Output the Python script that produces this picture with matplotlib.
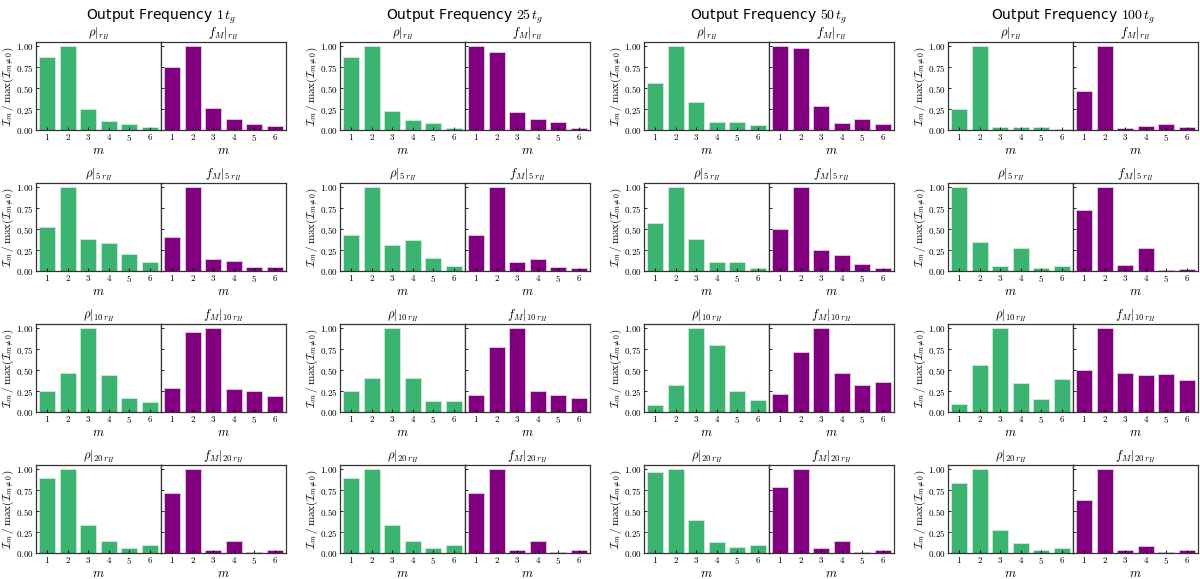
import numpy as np
import matplotlib
matplotlib.use('Agg')
import matplotlib.pyplot as plt
from matplotlib.ticker import FormatStrFormatter

plt.rcParams['mathtext.fontset'] = 'cm'
plt.rcParams['font.family'] = 'DejaVu Sans'

m = [1, 2, 3, 4, 5, 6]
freq_labels = [r'Output Frequency $1\,t_g$', r'Output Frequency $25\,t_g$',
               r'Output Frequency $50\,t_g$', r'Output Frequency $100\,t_g$']
radius_labels = [r'r_H', r'5\,r_H', r'10\,r_H', r'20\,r_H']

# rows: r_H, 5 r_H, 10 r_H, 20 r_H
rho_1tg = [[0.87, 1.00, 0.25, 0.11, 0.07, 0.04],
           [0.52, 1.00, 0.38, 0.33, 0.20, 0.11],
           [0.25, 0.47, 1.00, 0.44, 0.17, 0.12],
           [0.90, 1.00, 0.33, 0.14, 0.06, 0.10]]
fm_1tg = [[0.75, 1.00, 0.26, 0.13, 0.07, 0.05],
          [0.41, 1.00, 0.14, 0.12, 0.05, 0.05],
          [0.29, 0.95, 1.00, 0.28, 0.25, 0.19],
          [0.72, 1.00, 0.04, 0.14, 0.01, 0.03]]

rho_25tg = [[0.87, 1.00, 0.23, 0.12, 0.08, 0.02],
            [0.43, 1.00, 0.31, 0.37, 0.15, 0.06],
            [0.25, 0.41, 1.00, 0.40, 0.13, 0.13],
            [0.90, 1.00, 0.33, 0.14, 0.06, 0.10]]
fm_25tg = [[1.00, 0.93, 0.22, 0.13, 0.10, 0.02],
           [0.43, 1.00, 0.11, 0.14, 0.05, 0.03],
           [0.20, 0.78, 1.00, 0.25, 0.20, 0.17],
           [0.72, 1.00, 0.04, 0.14, 0.01, 0.03]]

rho_50tg = [[0.56, 1.00, 0.33, 0.10, 0.09, 0.06],
            [0.57, 1.00, 0.38, 0.11, 0.11, 0.03],
            [0.08, 0.32, 1.00, 0.80, 0.25, 0.14],
            [0.97, 1.00, 0.39, 0.13, 0.07, 0.10]]
fm_50tg = [[1.00, 0.98, 0.29, 0.08, 0.13, 0.07],
           [0.50, 1.00, 0.25, 0.19, 0.08, 0.04],
           [0.22, 0.72, 1.00, 0.46, 0.32, 0.36],
           [0.79, 1.00, 0.06, 0.14, 0.01, 0.03]]

rho_100tg = [[0.25, 1.00, 0.03, 0.03, 0.03, 0.01],
             [1.00, 0.35, 0.06, 0.27, 0.03, 0.06],
             [0.09, 0.56, 1.00, 0.35, 0.15, 0.39],
             [0.83, 1.00, 0.28, 0.12, 0.04, 0.06]]
fm_100tg = [[0.46, 1.00, 0.02, 0.05, 0.07, 0.04],
            [0.73, 1.00, 0.07, 0.27, 0.01, 0.02],
            [0.50, 1.00, 0.46, 0.44, 0.45, 0.38],
            [0.63, 1.00, 0.03, 0.08, 0.01, 0.04]]

rho_all = [rho_1tg, rho_25tg, rho_50tg, rho_100tg]
fm_all = [fm_1tg, fm_25tg, fm_50tg, fm_100tg]

W, H = 1200, 579
fig = plt.figure(figsize=(W / 100, H / 100), dpi=100)

group_left = [36, 340, 644, 948]
panel_w = 125
row_top = [42, 183, 324, 465]
panel_h = 88

green = '#3cb371'
purple = '#800080'


def style_axis(ax, show_ylabels):
    ax.set_xlim(0.45, 6.55)
    ax.set_ylim(0, 1.05)
    ax.set_xticks(m)
    ax.set_yticks([0, 0.25, 0.5, 0.75, 1.0])
    ax.xaxis.set_major_formatter(FormatStrFormatter('$%d$'))
    ax.yaxis.set_major_formatter(FormatStrFormatter('$%.2f$'))
    ax.tick_params(direction='in', length=2.5, width=0.6, labelsize=6.5, pad=2)
    ax.tick_params(axis='x', pad=1.5)
    if not show_ylabels:
        ax.tick_params(labelleft=False)
    for s in ax.spines.values():
        s.set_linewidth(0.9)
        s.set_color('#333333')
    ax.set_xlabel(r'$m$', fontsize=9, labelpad=0.5)


for j in range(4):
    for i in range(4):
        x0 = group_left[j] / W
        y0 = 1 - (row_top[i] + panel_h) / H
        w = panel_w / W
        h = panel_h / H
        ax1 = fig.add_axes([x0, y0, w, h])
        ax2 = fig.add_axes([x0 + w, y0, w, h], sharey=ax1)

        ax1.bar(m, rho_all[j][i], width=0.8, color=green, edgecolor='#c8f0d8', linewidth=0.6, zorder=1)
        ax2.bar(m, fm_all[j][i], width=0.8, color=purple, edgecolor='#e8c8e8', linewidth=0.6, zorder=1)

        style_axis(ax1, True)
        style_axis(ax2, False)

        r = radius_labels[i]
        ax1.set_title(r'$\rho|_{%s}$' % r, fontsize=9, pad=2)
        ax2.set_title(r'$f_M|_{%s}$' % r, fontsize=9, pad=2)
        ax1.set_ylabel(r'$\mathcal{I}_m\,/\,\max(\mathcal{I}_{m\neq0})$', fontsize=8, labelpad=0)

    cx = (group_left[j] + panel_w) / W
    fig.text(cx, 1 - 17 / H, freq_labels[j], ha='center', va='center', fontsize=10)

fig.savefig('out.png', dpi=100)
